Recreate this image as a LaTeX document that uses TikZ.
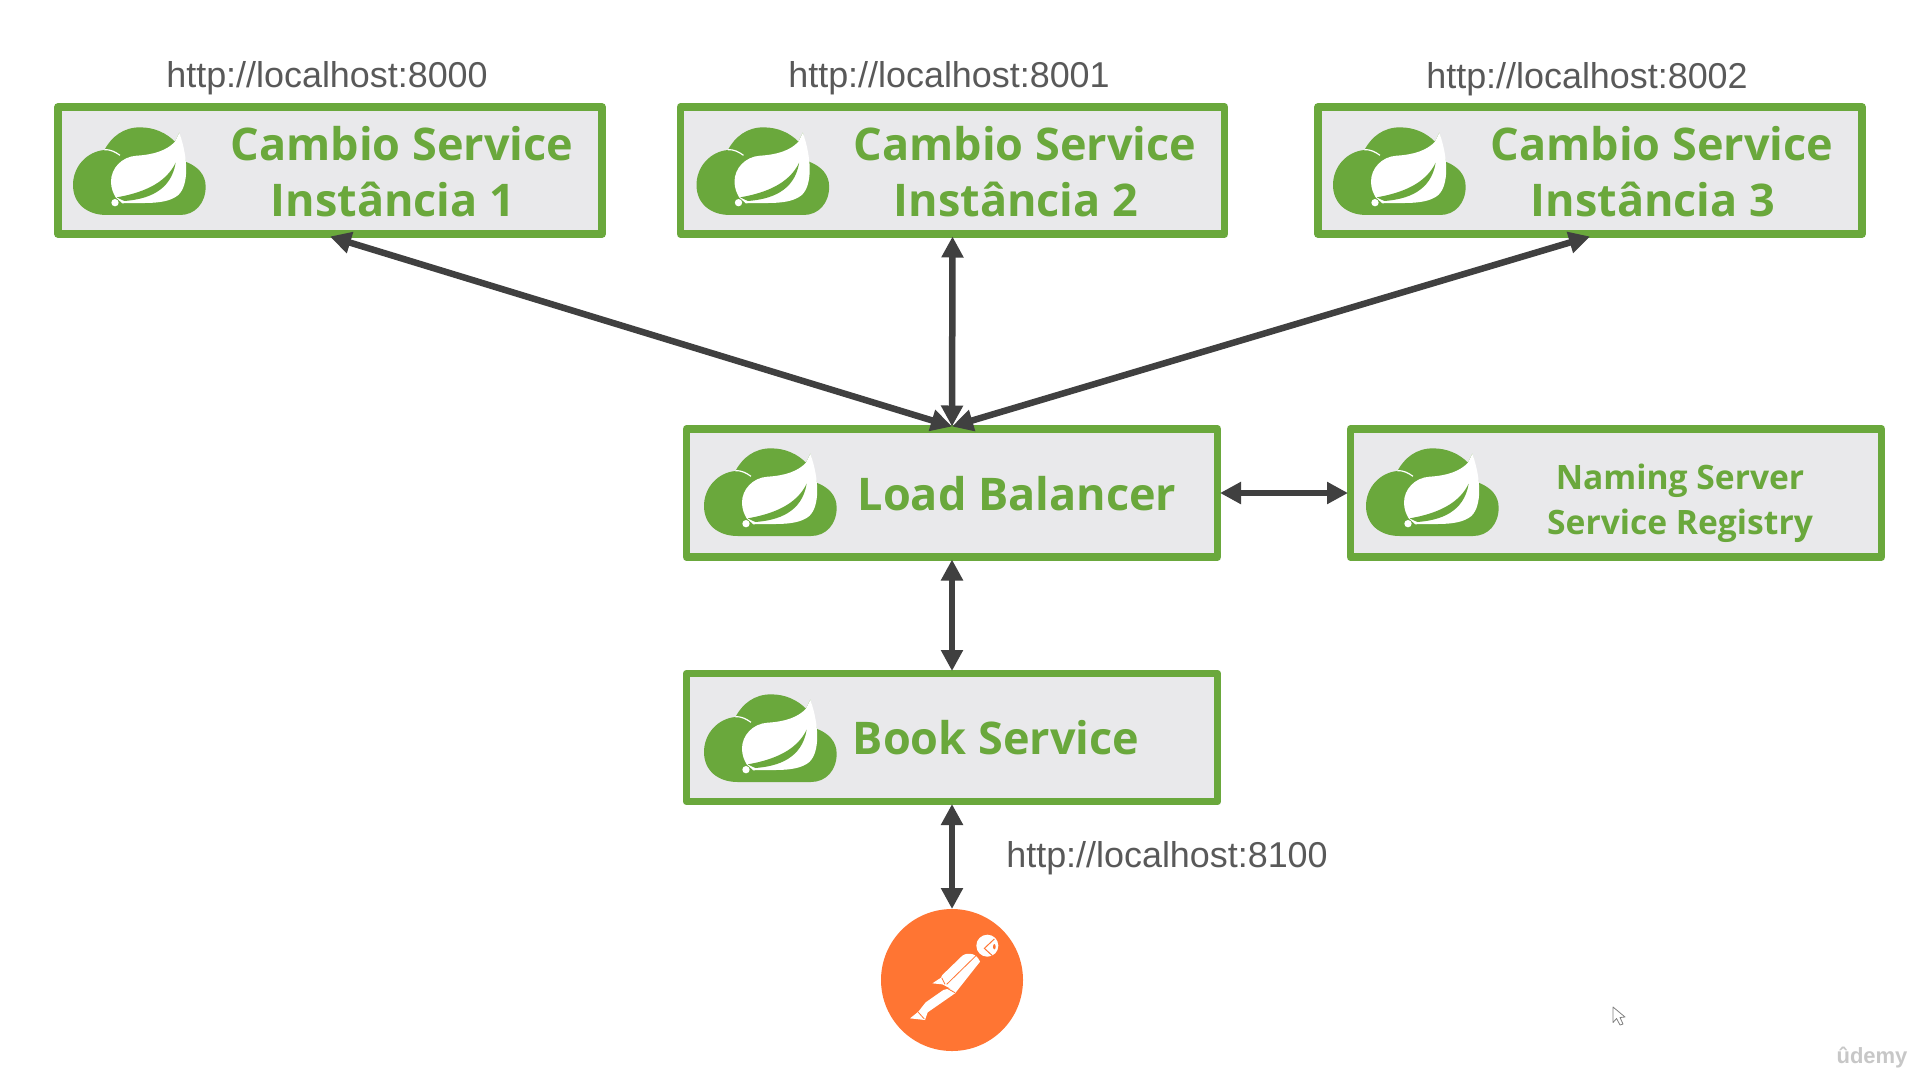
\documentclass[tikz,border=0pt]{standalone}
\usepackage{fontspec}
\setmainfont{Liberation Sans}
\newfontfamily\boxfont{Open Sans}[BoldFont=* Bold]
\usetikzlibrary{arrows.meta}
\definecolor{springgreen}{HTML}{6AA83C}
\definecolor{boxgrey}{HTML}{E9E9EB}
\definecolor{linkdark}{HTML}{404040}
\definecolor{urlgrey}{HTML}{595959}
\definecolor{pmorange}{HTML}{FF7533}
\tikzset{
  servicebox/.style={draw=springgreen,fill=boxgrey,line width=7.5pt,outer sep=2.5pt,inner sep=0pt,minimum height=127pt,line join=round},
  wideservice/.style={servicebox,minimum width=544pt},
  narrowservice/.style={servicebox,minimum width=531pt,minimum height=128pt},
  boxtext/.style={text=springgreen,font=\boxfont\bfseries\fontsize{45}{56}\selectfont,align=center,inner sep=0pt},
  smalltext/.style={text=springgreen,font=\boxfont\bfseries\fontsize{33.6}{45}\selectfont,align=center,inner sep=0pt},
  urltext/.style={text=urlgrey,font=\fontsize{35.9}{40}\selectfont,inner sep=0pt},
  link/.style={draw=linkdark,line width=6.5pt,{Triangle[width=21pt,length=21pt]}-{Triangle[width=21pt,length=21pt]}},
  springlogo/.pic={
    \begin{scope}[scale=.3333,shift={(-24,-21)}]
      \fill[springgreen] (125,285) .. controls (65,285) and (24,250) .. (24,195)
        .. controls (24,140) and (65,95) .. (118,90)
        .. controls (140,50) and (175,22) .. (225,22)
        .. controls (270,22) and (305,40) .. (330,65) -- (343,38) -- (362,125)
        .. controls (400,140) and (422,165) .. (422,200)
        .. controls (422,250) and (390,285) .. (345,285) -- cycle;
      \fill[white] (343,38) -- (330,65) .. controls (305,92) and (265,104) .. (215,107)
        .. controls (170,110) and (138,145) .. (138,185)
        .. controls (138,205) and (145,220) .. (152,232) -- (172,250)
        .. controls (225,246) and (300,258) .. (340,225)
        .. controls (372,195) and (370,115) .. (343,38) -- cycle;
      \fill[springgreen] (332,128) .. controls (308,178) and (255,215) .. (155,232) -- (178,243)
        .. controls (245,238) and (318,215) .. (332,128) -- cycle;
      \draw[white,line width=1.2pt] (118,89) .. controls (135,88) and (150,95) .. (165,106);
      \fill[white] (150,248) circle [radius=11];
    \end{scope}
  },
  pmlogo/.pic={
    \begin{scope}[scale=.3333,shift={(-141,-165)}]
      \fill[white] (247,62) circle [radius=33];
      \draw[pmorange,line width=1pt] (268,42) -- (238,70) -- (262,92);
      \fill[pmorange] (268,65) ellipse [x radius=4,y radius=8];
      \fill[white] (112,150) -- (172,92) .. controls (190,80) and (215,85) .. (225,110)
        -- (150,205) -- (135,190) -- (112,178) -- (82,175) -- (108,158) -- cycle;
      \fill[white] (62,232) -- (115,195) -- (135,190) -- (150,205) -- (68,262) -- (60,285) -- (15,280) -- (40,260) -- cycle;
      \draw[pmorange,line width=.8pt] (215,90) -- (125,178) (110,158) -- (120,178) (112,182) -- (150,203) (40,262) -- (58,282);
    \end{scope}
  }
}
\begin{document}
\begin{tikzpicture}[x=1pt,y=-1pt]
\useasboundingbox (0,0) rectangle (1916,1080);
\fill[white] (0,0) rectangle (1916,1080);

\node[wideservice] (b1) at (330,170.5) {};
\node[wideservice] (b2) at (952.5,170.5) {};
\node[wideservice] (b3) at (1590,170.5) {};
\node[narrowservice] (lb) at (952,493) {};
\node[narrowservice] (ns) at (1616,493) {};
\node[narrowservice] (bs) at (952,737.5) {};
\node[circle,fill=pmorange,minimum size=142pt,inner sep=0pt,outer sep=0pt] (pm) at (952,980) {};

\pic at (73,127) {springlogo};
\pic at (696.5,127) {springlogo};
\pic at (1333,127) {springlogo};
\pic at (704,448) {springlogo};
\pic at (1366,448) {springlogo};
\pic at (704,694) {springlogo};
\pic at (952,980) {pmlogo};

\node[boxtext] (t1) at (402,172) {Cambio Service\\Instância 1\hspace*{18pt}};
\node[boxtext] (t2) at (1025,172) {Cambio Service\\Instância 2\hspace*{18pt}};
\node[boxtext] (t3) at (1662,172) {Cambio Service\\Instância 3\hspace*{18pt}};
\node[boxtext] (t4) at (1017,494) {Load Balancer};
\node[smalltext] (t5) at (1680,503) {Naming Server\\Service Registry};
\node[boxtext] (t6) at (996,738) {Book Service};

\node[urltext] (u1) at (327,78.5) {http://localhost:8000};
\node[urltext] (u2) at (949,78.5) {http://localhost:8001};
\node[urltext] (u3) at (1587,79.5) {http://localhost:8002};
\node[urltext] (u4) at (1167,858.5) {http://localhost:8100};

\draw[link] (b1.south) -- (lb.north);
\draw[link] (b2.south) -- (lb.north);
\draw[link] (b3.south) -- (lb.north);
\draw[link] (lb.east) -- (ns.west);
\draw[link] (lb.south) -- (bs.north);
\draw[link] (bs.south) -- (pm.north);

\draw[fill=white,draw=gray,line width=.8pt,line join=round] (1613,1007) -- (1625,1017) -- (1620,1017.5) -- (1623,1024) -- (1620,1025) -- (1616.5,1018.5) -- (1613,1022.5) -- cycle;
\node[text=black!22,font=\bfseries\fontsize{22}{24}\selectfont,inner sep=0pt] (ud) at (1872,1058) {ûdemy};
\end{tikzpicture}
\end{document}
